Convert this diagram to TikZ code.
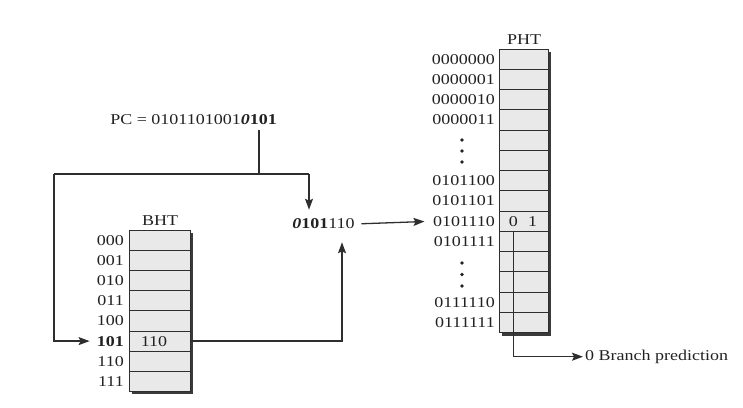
\documentclass[tikz,border=0pt]{standalone}
\usepackage{graphicx}
\usepackage{fontspec}
\setmainfont{Liberation Serif}
\usetikzlibrary{arrows.meta}
\newcommand{\sx}[1]{\scalebox{1.2}[1]{#1}}
\definecolor{txt}{HTML}{222222}
\definecolor{linec}{HTML}{2E2E2E}
\definecolor{cellc}{HTML}{E9E9E9}
\definecolor{shadowc}{HTML}{3A3A3A}
\begin{document}
\begin{tikzpicture}[x=1pt,y=-1pt,
  every node/.style={font=\fontsize{15}{15}\selectfont, text=txt},
  cellb/.style={draw=linec, fill=cellc, line width=1pt, minimum width=61pt, minimum height=20.2pt, inner sep=0pt},
  cellp/.style={draw=linec, fill=cellc, line width=1pt, minimum width=48.5pt, minimum height=20.26pt, inner sep=0pt},
  lab/.style={anchor=east, inner sep=0pt},
  txtn/.style={inner sep=0pt},
  conn/.style={draw=linec, line width=1.3pt},
  arr/.style={conn, -{Stealth[length=11pt,width=8pt,inset=2pt]}}
]
\useasboundingbox (0,0) rectangle (743,407);
% ---------- BHT ----------
\node[txtn] (bht) at (160,221) {\sx{BHT}};
\fill[shadowc] (132,232.5) rectangle (193,394);
\foreach \i/\t in {0/000,1/001,2/010,3/011,4/100,6/110,7/111}{
  \node[cellb] (b\i) at (160,{240.1+\i*20.2}) {};
  \node[lab] (bl\i) at (124,{240.1+\i*20.2}) {\sx{\t}};
}
\node[cellb] (b5) at (160,341.1) {};
\node[lab] (bl5) at (124,341.1) {\sx{\textbf{101}}};
\node[txtn] (bv) at (154,341.1) {\sx{110}};
% ---------- PHT ----------
\node[txtn] (pht) at (524,40) {\sx{PHT}};
\fill[shadowc] (502,51.5) rectangle (551,335.5);
\foreach \i/\t in {0/0000000,1/0000001,2/0000010,3/0000011,4/{},5/{},6/0101100,7/0101101,8/0101110,9/0101111,10/{},11/{},12/0111110,13/0111111}{
  \node[cellp] (p\i) at (524,{59.13+\i*20.26}) {};
  \node[lab] (pl\i) at (495,{59.13+\i*20.26}) {\sx{\t}};
}
\foreach \y in {140,151,162,263,274.5,286}{
  \fill[txt] (462,\y) circle (1.8);
}
\node[txtn] (v0) at (513.3,221.2) {\sx{0}};
\node[txtn] (v1) at (532.7,221.2) {\sx{1}};
% ---------- PC and index ----------
\node[inner sep=5pt] (pc) at (193.5,120) {\sx{PC = 0101101001\textbf{\textit{0}}\textbf{101}}};
\node[txtn] (idx) at (323.5,224) {\sx{\textbf{\textit{0}101}110}};
\node[anchor=west, inner sep=2pt] (bpred) at (583,356.7) {\sx{0 Branch prediction}};
\coordinate (jm) at (259,174);
\coordinate (jl) at (54,174);
\coordinate (jr) at (309,174);
\coordinate (ju) at (342,300);
% ---------- connectors ----------
\draw[conn] (jm |- pc.south) -- (jm);
\draw[conn] (jl) -- (jr);
\draw[arr, shorten >=9pt] (jr) -- (jr |- idx.north);
\draw[arr, shorten >=7pt] (jl) |- (bl5.west);
\draw[arr, shorten >=13pt] (b5.east) -| (ju |- idx.south);
\draw[arr, shorten <=6.5pt, shorten >=8.5pt] (idx.east) -- (pl8.west);
\draw[arr] (v0 |- p8.south) |- (bpred.west);
\end{tikzpicture}
\end{document}
